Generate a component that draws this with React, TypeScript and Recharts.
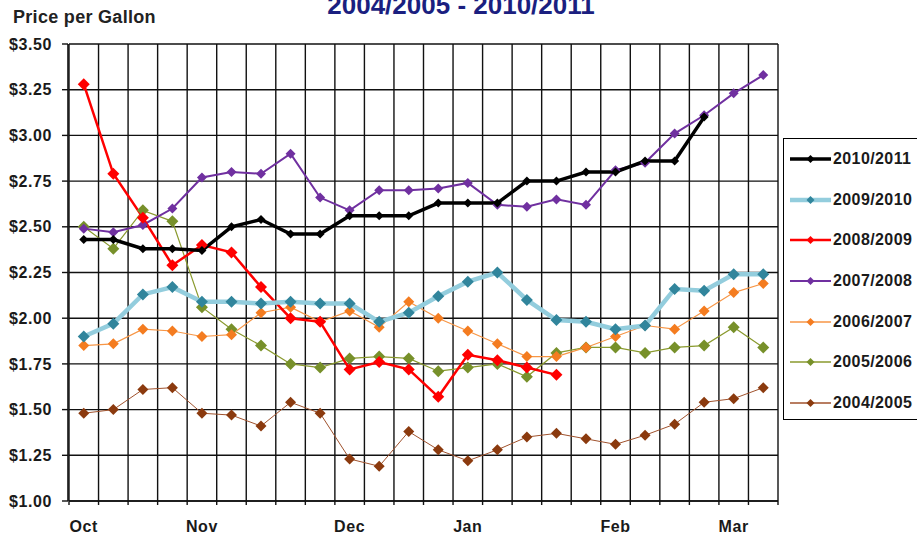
import React from 'react';
import { LineChart, Line, XAxis, YAxis, CartesianGrid, Legend } from 'recharts';

// weekly readings, Oct .. Mar (24 weeks)
const weekIndex = [0, 1, 2, 3, 4, 5, 6, 7, 8, 9, 10, 11, 12, 13, 14, 15, 16, 17, 18, 19, 20, 21, 22, 23];
const monthNames = ['Oct', 'Nov', 'Dec', 'Jan', 'Feb', 'Mar'];
const monthWeek = [0, 4, 9, 13, 18, 22];
const yMajor = [1.0, 1.25, 1.5, 1.75, 2.0, 2.25, 2.5, 2.75, 3.0, 3.25, 3.5];

const s2010 = [2.43, 2.43, 2.38, 2.38, 2.37, 2.5, 2.54, 2.46, 2.46, 2.56, 2.56, 2.56, 2.63, 2.63, 2.63, 2.75, 2.75, 2.8, 2.8, 2.86, 2.86, 3.1, null, null];
const s2009 = [1.9, 1.97, 2.13, 2.17, 2.09, 2.09, 2.08, 2.09, 2.08, 2.08, 1.98, 2.03, 2.12, 2.2, 2.25, 2.1, 1.99, 1.98, 1.94, 1.96, 2.16, 2.15, 2.24, 2.24];
const s2008 = [3.28, 2.79, 2.55, 2.29, 2.4, 2.36, 2.17, 2.0, 1.98, 1.72, 1.76, 1.72, 1.57, 1.8, 1.77, 1.73, 1.69, null, null, null, null, null, null, null];
const s2007 = [2.49, 2.47, 2.51, 2.6, 2.77, 2.8, 2.79, 2.9, 2.66, 2.59, 2.7, 2.7, 2.71, 2.74, 2.62, 2.61, 2.65, 2.62, 2.81, 2.85, 3.01, 3.11, 3.23, 3.33];
const s2006 = [1.85, 1.86, 1.94, 1.93, 1.9, 1.91, 2.03, 2.06, 1.98, 2.04, 1.95, 2.09, 2.0, 1.93, 1.86, 1.79, 1.79, 1.84, 1.9, 1.96, 1.94, 2.04, 2.14, 2.19];
const s2005 = [2.5, 2.38, 2.59, 2.53, 2.06, 1.94, 1.85, 1.75, 1.73, 1.78, 1.79, 1.78, 1.71, 1.73, 1.75, 1.68, 1.81, 1.84, 1.84, 1.81, 1.84, 1.85, 1.95, 1.84];
const s2004 = [1.48, 1.5, 1.61, 1.62, 1.48, 1.47, 1.41, 1.54, 1.48, 1.23, 1.19, 1.38, 1.28, 1.22, 1.28, 1.35, 1.37, 1.34, 1.31, 1.36, 1.42, 1.54, 1.56, 1.62];

const series = [
  { key: 'y2010', name: '2010/2011', values: s2010, stroke: '#000000', width: 3.5, marker: '#000000', r: 4.5 },
  { key: 'y2009', name: '2009/2010', values: s2009, stroke: '#93cddd', width: 4.5, marker: '#31859c', r: 6 },
  { key: 'y2008', name: '2008/2009', values: s2008, stroke: '#ff0000', width: 2.5, marker: '#ff0000', r: 6 },
  { key: 'y2007', name: '2007/2008', values: s2007, stroke: '#7030a0', width: 2, marker: '#7030a0', r: 5 },
  { key: 'y2006', name: '2006/2007', values: s2006, stroke: '#f79646', width: 1.2, marker: '#f47c20', r: 5.5 },
  { key: 'y2005', name: '2005/2006', values: s2005, stroke: '#8a9a2e', width: 1.2, marker: '#77902a', r: 6 },
  { key: 'y2004', name: '2004/2005', values: s2004, stroke: '#a0522d', width: 1, marker: '#8b3a0e', r: 5.5 },
];

// grid lines sit on week boundaries, points sit mid-week
const gridTicks = [...weekIndex, weekIndex.length];
const monthTicks = monthWeek.map((w) => w + 0.5);
const yMinor: number[] = [];
yMajor.slice(0, -1).forEach((v) => {
  for (let k = 0; k < 5; k++) yMinor.push(Math.round((v + k * 0.05) * 100) / 100);
});
yMinor.push(yMajor[yMajor.length - 1]);

const data = weekIndex.map((w) => {
  const row: Record<string, number | null> = { x: w + 0.5 };
  series.forEach((s) => {
    row[s.key] = s.values[w];
  });
  return row;
});

const diamondPath = (cx: number, cy: number, r: number) =>
  `M${cx},${cy - r}L${cx + r},${cy}L${cx},${cy + r}L${cx - r},${cy}Z`;

const diamond = (fill: string, r: number) => (props: any) => {
  const { cx, cy, index } = props;
  if (cx == null || cy == null || props.value == null) return <g key={`d${index}`} />;
  return <path key={`d${index}`} d={diamondPath(cx, cy, r)} fill={fill} />;
};

const noLabel = () => <g />;

const monthLabel = (v: number) => {
  const i = monthTicks.indexOf(v);
  return i >= 0 ? monthNames[i] : '';
};

const tickFont = { fontSize: 16, fontWeight: 700, fill: '#1a1a1a', letterSpacing: 0.6 };

const renderLegend = () => (
  <div
    style={{
      border: '1.5px solid #000',
      borderRight: 'none',
      background: '#fff',
      width: 134,
      height: 282,
      boxSizing: 'border-box',
      overflow: 'hidden',
    }}
  >
    {series.map((s) => (
      <div key={s.key} style={{ display: 'flex', alignItems: 'center', height: 40.6 }}>
        <svg width={49} height={14} style={{ flex: 'none' }}>
          <line x1={6} x2={47} y1={7} y2={7} stroke={s.stroke} strokeWidth={Math.max(s.width, 1.5)} />
          <path d={diamondPath(26.5, 7, 4)} fill={s.marker} />
        </svg>
        <span style={{ fontSize: 16, fontWeight: 700, color: '#1a1a1a', letterSpacing: 0.4, whiteSpace: 'nowrap' }}>
          {s.name}
        </span>
      </div>
    ))}
  </div>
);

export default function App() {
  return (
    <div
      style={{
        position: 'absolute',
        left: 8,
        top: 8,
        width: 909,
        height: 530,
        fontFamily: '"Liberation Sans", Arial, sans-serif',
      }}
    >
      <div
        style={{
          position: 'absolute',
          left: 0,
          width: 906,
          top: -16,
          textAlign: 'center',
          fontSize: 26,
          lineHeight: '26px',
          fontWeight: 700,
          color: '#1b1f80',
        }}
      >
        2004/2005 - 2010/2011
      </div>
      <div
        style={{
          position: 'absolute',
          left: 5,
          top: 0,
          fontSize: 18,
          lineHeight: '18px',
          fontWeight: 700,
          letterSpacing: 0.3,
          color: '#222',
        }}
      >
        Price per Gallon
      </div>
      <LineChart width={909} height={530} data={data} margin={{ top: 36, right: 139, bottom: 0, left: 0 }}>
        <CartesianGrid xAxisId="grid" yAxisId="y" stroke="#111" strokeWidth={1.4} />
        <XAxis
          xAxisId="grid"
          type="number"
          dataKey="x"
          domain={[0, 24]}
          ticks={gridTicks}
          interval={0}
          height={1}
          tick={noLabel}
          tickSize={4}
          tickLine={{ stroke: '#111', strokeWidth: 1.4 }}
          axisLine={{ stroke: '#111', strokeWidth: 1.6 }}
        />
        <XAxis
          xAxisId="lbl"
          type="number"
          dataKey="x"
          domain={[0, 24]}
          ticks={monthTicks}
          interval={0}
          height={36}
          axisLine={false}
          tickLine={false}
          tickSize={0}
          tickMargin={19}
          tickFormatter={monthLabel}
          tick={tickFont}
        />
        <YAxis
          yAxisId="minor"
          type="number"
          domain={[1, 3.5]}
          ticks={yMinor}
          interval={0}
          width={1}
          tick={noLabel}
          tickSize={4}
          tickLine={{ stroke: '#111' }}
          axisLine={false}
        />
        <YAxis
          yAxisId="y"
          type="number"
          domain={[1, 3.5]}
          ticks={yMajor}
          interval={0}
          width={60}
          tickSize={6}
          tickMargin={10}
          tickFormatter={(v: number) => '$' + v.toFixed(2)}
          tickLine={{ stroke: '#111', strokeWidth: 1.4 }}
          axisLine={{ stroke: '#111', strokeWidth: 1.6 }}
          tick={tickFont}
        />
        <Legend
          layout="horizontal"
          align="center"
          verticalAlign="middle"
          content={renderLegend}
          wrapperStyle={{ left: 775, top: 130, width: 134, height: 282 }}
        />
        {[...series].reverse().map((s) => (
          <Line
            key={s.key}
            xAxisId="lbl"
            yAxisId="y"
            dataKey={s.key}
            name={s.name}
            type="linear"
            stroke={s.stroke}
            strokeWidth={s.width}
            dot={diamond(s.marker, s.r)}
            activeDot={false}
            isAnimationActive={false}
          />
        ))}
      </LineChart>
    </div>
  );
}
